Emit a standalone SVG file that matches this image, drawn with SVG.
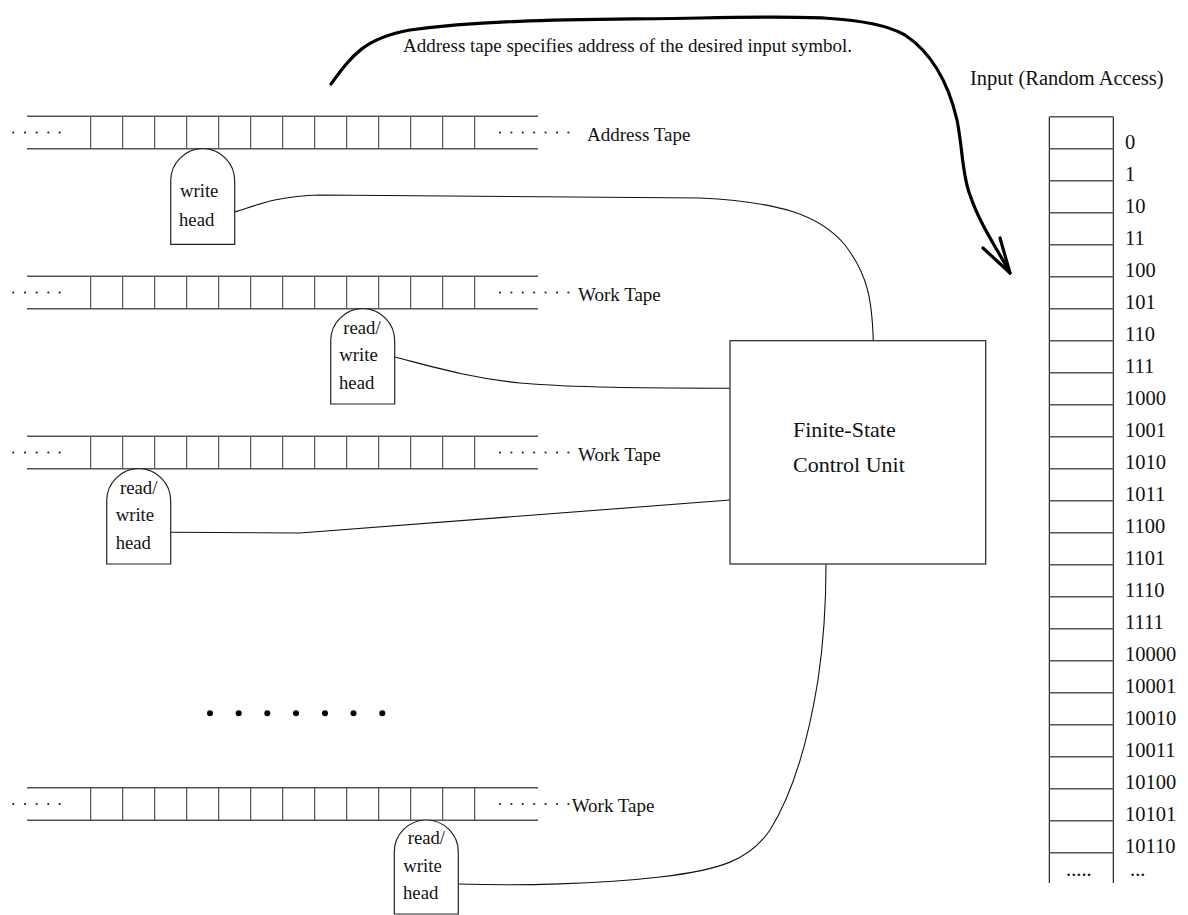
<svg xmlns="http://www.w3.org/2000/svg" width="1188" height="915" viewBox="0 0 1188 915">
<style>
text{font-family:"Liberation Serif","Times New Roman",serif;fill:#111}
.t{font-size:19px}
.h{font-size:18.7px}
.lab{font-size:20.5px}
.tl{stroke:#555;stroke-width:1.4;fill:none}
.tv{stroke:#333;stroke-width:1;fill:none}
.head{fill:#fff;stroke:#222;stroke-width:1.2}
.con{fill:none;stroke:#111;stroke-width:1.1}
.d{fill:#222}
</style>
<defs>
<g id="cells">
<line class="tv" x1="90.7" y1="0" x2="90.7" y2="32.5"/><line class="tv" x1="122.7" y1="0" x2="122.7" y2="32.5"/><line class="tv" x1="154.7" y1="0" x2="154.7" y2="32.5"/><line class="tv" x1="186.7" y1="0" x2="186.7" y2="32.5"/><line class="tv" x1="218.7" y1="0" x2="218.7" y2="32.5"/><line class="tv" x1="250.7" y1="0" x2="250.7" y2="32.5"/><line class="tv" x1="282.7" y1="0" x2="282.7" y2="32.5"/><line class="tv" x1="314.7" y1="0" x2="314.7" y2="32.5"/><line class="tv" x1="346.7" y1="0" x2="346.7" y2="32.5"/><line class="tv" x1="378.7" y1="0" x2="378.7" y2="32.5"/><line class="tv" x1="410.7" y1="0" x2="410.7" y2="32.5"/><line class="tv" x1="442.7" y1="0" x2="442.7" y2="32.5"/><line class="tv" x1="474.7" y1="0" x2="474.7" y2="32.5"/>
<line class="tl" x1="27" y1="0" x2="538" y2="0"/><line class="tl" x1="27" y1="32.5" x2="538" y2="32.5"/>
<circle class="d" cx="13.3" cy="16.3" r="1.1"/><circle class="d" cx="25" cy="16.3" r="1.1"/><circle class="d" cx="36.7" cy="16.3" r="1.1"/><circle class="d" cx="48.3" cy="16.3" r="1.1"/><circle class="d" cx="59.7" cy="16.3" r="1.1"/>
<circle class="d" cx="500" cy="16.3" r="1.1"/><circle class="d" cx="511.4" cy="16.3" r="1.1"/><circle class="d" cx="522.8" cy="16.3" r="1.1"/><circle class="d" cx="534.2" cy="16.3" r="1.1"/><circle class="d" cx="545.6" cy="16.3" r="1.1"/><circle class="d" cx="557" cy="16.3" r="1.1"/><circle class="d" cx="568.4" cy="16.3" r="1.1"/>
</g>
</defs>

<g id="connectors">
<path class="con" d="M234.7,212 C255,206 275,196 320,195 L700,198 C780,202 820,215 845,245 C868,275 872,300 873.3,340.7"/>
<path class="con" d="M394.7,357 C430,366 470,378 520,383 C580,388 650,388 730,388.3"/>
<path class="con" d="M170.7,532.3 L300,533 L730,500"/>
<path class="con" d="M458.3,884 C520,886 600,884 660,877 C720,870 750,860 770,830 C795,790 810,730 818,680 C824,640 826,600 826,564"/>
<path fill="none" stroke="#000" stroke-width="3.2" stroke-linecap="round" stroke-linejoin="round" d="M331,84 C352,55 365,38 410,30 C500,18 600,20 700,18 C800,16 870,15 905,35 C935,55 950,90 957,120 C963,150 962,175 970,195 C980,225 998,250 1010,273"/>
<path fill="none" stroke="#000" stroke-width="3.2" stroke-linecap="round" stroke-linejoin="round" d="M983,248 L1010,273 L1000,238"/>
</g>

<g id="caption"><text class="t" x="403" y="52">Address tape specifies address of the desired input symbol.</text></g>

<g id="address-tape">
<use href="#cells" y="116.2"/>
<text class="t" x="587" y="140.7">Address Tape</text>
</g>
<g id="write-head-1">
<path class="head" d="M170.7,244.3 L170.7,180.7 A32,32 0 0 1 234.7,180.7 L234.7,244.3 Z"/>
<text class="h" x="180" y="196.7">write</text>
<text class="h" x="179" y="226">head</text>
</g>

<g id="work-tape-1">
<use href="#cells" y="276.2"/>
<text class="t" x="578" y="300.7">Work Tape</text>
</g>
<g id="rw-head-1">
<path class="head" d="M330.7,404 L330.7,340.7 A32,32 0 0 1 394.7,340.7 L394.7,404 Z"/>
<text class="h" x="343.3" y="334">read/</text>
<text class="h" x="339.3" y="360.7">write</text>
<text class="h" x="339" y="388.5">head</text>
</g>

<g id="work-tape-2">
<use href="#cells" y="436.2"/>
<text class="t" x="578" y="460.7">Work Tape</text>
</g>
<g id="rw-head-2">
<path class="head" d="M106.7,564 L106.7,500.7 A32,32 0 0 1 170.7,500.7 L170.7,564 Z"/>
<text class="h" x="120" y="494">read/</text>
<text class="h" x="115.7" y="521">write</text>
<text class="h" x="115.7" y="549.3">head</text>
</g>

<g id="more-tapes">
<circle cx="210" cy="713.3" r="3" fill="#000"/><circle cx="238.7" cy="713.3" r="3" fill="#000"/><circle cx="267.3" cy="713.3" r="3" fill="#000"/><circle cx="296" cy="713.3" r="3" fill="#000"/><circle cx="325" cy="713.3" r="3" fill="#000"/><circle cx="353.5" cy="713.3" r="3" fill="#000"/><circle cx="382.3" cy="713.3" r="3" fill="#000"/>
</g>

<g id="work-tape-k">
<use href="#cells" y="787.7"/>
<text class="t" x="571.7" y="811.7">Work Tape</text>
</g>
<g id="rw-head-k">
<path class="head" d="M394.3,914 L394.3,852 A32,32 0 0 1 458.3,852 L458.3,914 Z"/>
<text class="h" x="407.7" y="844">read/</text>
<text class="h" x="403.3" y="871.7">write</text>
<text class="h" x="403" y="899.3">head</text>
</g>

<g id="control-unit">
<rect x="730" y="340.7" width="255.7" height="223.3" fill="#fff" stroke="#222" stroke-width="1.2"/>
<text x="793" y="436.7" font-size="22">Finite-State</text>
<text x="793" y="471.7" font-size="22">Control Unit</text>
</g>

<g id="input">
<text class="lab" x="970" y="85">Input (Random Access)</text>
<line stroke="#111" stroke-width="1.1" x1="1049.3" y1="116.7" x2="1049.3" y2="883"/>
<line stroke="#111" stroke-width="1.1" x1="1113.3" y1="116.7" x2="1113.3" y2="883"/>
<g stroke="#555" stroke-width="1.4">
<line x1="1049.3" y1="116.7" x2="1113.3" y2="116.7"/><line x1="1049.3" y1="148.7" x2="1113.3" y2="148.7"/><line x1="1049.3" y1="180.7" x2="1113.3" y2="180.7"/><line x1="1049.3" y1="212.7" x2="1113.3" y2="212.7"/><line x1="1049.3" y1="244.7" x2="1113.3" y2="244.7"/><line x1="1049.3" y1="276.7" x2="1113.3" y2="276.7"/><line x1="1049.3" y1="308.7" x2="1113.3" y2="308.7"/><line x1="1049.3" y1="340.7" x2="1113.3" y2="340.7"/><line x1="1049.3" y1="372.7" x2="1113.3" y2="372.7"/><line x1="1049.3" y1="404.7" x2="1113.3" y2="404.7"/><line x1="1049.3" y1="436.7" x2="1113.3" y2="436.7"/><line x1="1049.3" y1="468.7" x2="1113.3" y2="468.7"/><line x1="1049.3" y1="500.7" x2="1113.3" y2="500.7"/><line x1="1049.3" y1="532.7" x2="1113.3" y2="532.7"/><line x1="1049.3" y1="564.7" x2="1113.3" y2="564.7"/><line x1="1049.3" y1="596.7" x2="1113.3" y2="596.7"/><line x1="1049.3" y1="628.7" x2="1113.3" y2="628.7"/><line x1="1049.3" y1="660.7" x2="1113.3" y2="660.7"/><line x1="1049.3" y1="692.7" x2="1113.3" y2="692.7"/><line x1="1049.3" y1="724.7" x2="1113.3" y2="724.7"/><line x1="1049.3" y1="756.7" x2="1113.3" y2="756.7"/><line x1="1049.3" y1="788.7" x2="1113.3" y2="788.7"/><line x1="1049.3" y1="820.7" x2="1113.3" y2="820.7"/><line x1="1049.3" y1="852.7" x2="1113.3" y2="852.7"/>
</g>
<g class="lab">
<text class="lab" x="1125" y="148.5">0</text><text class="lab" x="1125" y="180.5">1</text><text class="lab" x="1125" y="212.5">10</text><text class="lab" x="1125" y="244.5">11</text><text class="lab" x="1125" y="276.5">100</text><text class="lab" x="1125" y="308.5">101</text><text class="lab" x="1125" y="340.5">110</text><text class="lab" x="1125" y="372.5">111</text><text class="lab" x="1125" y="404.5">1000</text><text class="lab" x="1125" y="436.5">1001</text><text class="lab" x="1125" y="468.5">1010</text><text class="lab" x="1125" y="500.5">1011</text><text class="lab" x="1125" y="532.5">1100</text><text class="lab" x="1125" y="564.5">1101</text><text class="lab" x="1125" y="596.5">1110</text><text class="lab" x="1125" y="628.5">1111</text><text class="lab" x="1125" y="660.5">10000</text><text class="lab" x="1125" y="692.5">10001</text><text class="lab" x="1125" y="724.5">10010</text><text class="lab" x="1125" y="756.5">10011</text><text class="lab" x="1125" y="788.5">10100</text><text class="lab" x="1125" y="820.5">10101</text><text class="lab" x="1125" y="852.5">10110</text>
</g>
<text class="lab" x="1066" y="876">.....</text>
<text class="lab" x="1130" y="876">...</text>
</g>
</svg>
